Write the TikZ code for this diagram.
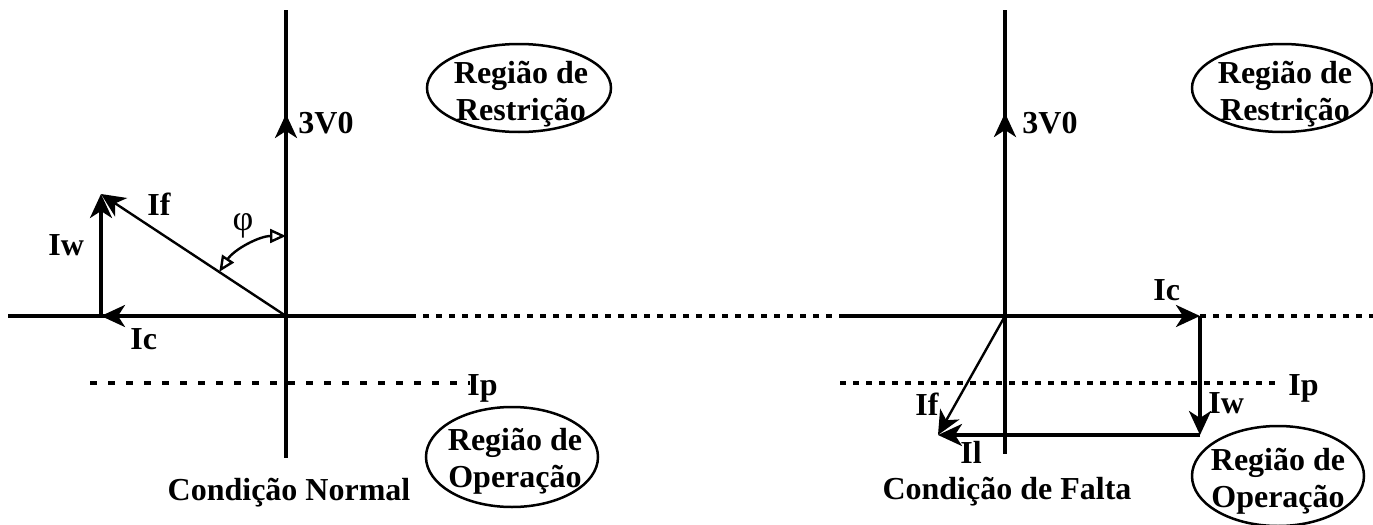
\documentclass[tikz,border=0pt]{standalone}
\usepackage{fontspec}
\setmainfont{Liberation Serif}
\usetikzlibrary{arrows.meta,calc}
\begin{document}
\begin{tikzpicture}[x=0.5pt,y=-0.5pt,
  lbl/.style={font=\fontsize{16}{18.5}\selectfont\bfseries, inner sep=0pt},
  region/.style={lbl, align=center},
  axis/.style={line width=1.75pt},
  vec/.style={line width=1.75pt, -{Stealth[length=12pt,width=11pt,inset=3.5pt]}},
  thinvec/.style={line width=1.2pt, -{Stealth[length=12pt,width=11pt,inset=3.5pt]}},
  dots/.style={line width=2pt, dash pattern=on 3pt off 3.5pt},
  ipdash/.style={line width=2pt, dash pattern=on 3.5pt off 5.5pt},
  ell/.style={line width=1.25pt},
  phiarr/.style={line width=1.2pt, {Triangle[open,length=8pt,width=7pt]}-{Triangle[open,length=8pt,width=7pt]}}]
\useasboundingbox (0,0) rectangle (1373,525);
% ---------- left: normal condition
\coordinate (O1) at (286,316);
\coordinate (T1) at (286,10);
\coordinate (B1) at (286,458);
\coordinate (V1) at (286,114);
\coordinate (L1) at (8,316);
\coordinate (R1) at (410,316);
\coordinate (C1) at (101,316);
\coordinate (F1) at (101,194);
\coordinate (P1a) at (90,383);
\coordinate (P1b) at (470,383);
% ---------- right: fault condition
\coordinate (O2) at (1005,316);
\coordinate (T2) at (1005,10);
\coordinate (B2) at (1005,454);
\coordinate (V2) at (1005,113);
\coordinate (L2) at (840,316);
\coordinate (C2) at (1200,316);
\coordinate (E2) at (1373,316);
\coordinate (W2) at (1200,435);
\coordinate (F2) at (938,435);
\coordinate (P2a) at (840,383);
\coordinate (P2b) at (1280,383);

% left drawing
\draw[axis] (T1) -- (B1);
\draw[axis] (L1) -- (R1);
\draw[dots] (R1) -- (L2);
\draw[vec] (O1) -- (V1);
\draw[vec] (O1) -- (C1);
\draw[vec] (C1) -- (F1);
\draw[thinvec] (O1) -- (F1);
\draw[ipdash] (P1a) -- (P1b);
\coordinate (A1) at ($(O1)+(213.5:80)$);
\draw[phiarr] (A1) arc[start angle=213.5, end angle=270, radius=80];

% right drawing
\draw[axis] (T2) -- (B2);
\draw[vec] (O2) -- (V2);
\draw[axis] (L2) -- (O2);
\draw[vec] (O2) -- (C2);
\draw[dots] (C2) -- (E2);
\draw[vec] (C2) -- (W2);
\draw[vec] (W2) -- (F2);
\draw[thinvec] (O2) -- (F2);
\draw[dots] (P2a) -- (P2b);

% labels left
\node[lbl, anchor=base west] (v1l) at (298,133) {3V0};
\node[lbl, anchor=base west] (if1l) at (147,215) {If};
\node[lbl, anchor=base west] (iw1l) at (48,255) {Iw};
\node[lbl, anchor=base west] (ic1l) at (130,349) {Ic};
\node[font=\fontsize{18}{20}\selectfont, inner sep=0pt] (phil) at (243,226) {φ};
\node[lbl, anchor=base west] (ip1l) at (467,395) {Ip};
\node[lbl, anchor=base] (cn) at (289,500) {Condição Normal};

% labels right
\node[lbl, anchor=base west] (v2l) at (1022,133) {3V0};
\node[lbl, anchor=base west] (ic2l) at (1153,300) {Ic};
\node[lbl, anchor=base west] (iw2l) at (1208,413) {Iw};
\node[lbl, anchor=base west] (if2l) at (915,415) {If};
\node[lbl, anchor=base west] (il2l) at (960,463) {Il};
\node[lbl, anchor=base west] (ip2l) at (1288,395) {Ip};
\node[lbl, anchor=base] (cf) at (1007,499) {Condição de Falta};

% regions
\node[region] (rr1) at (521,94) {Região de\\Restrição};
\draw[ell] ($(rr1.center)+(-2,-6)$) ellipse [x radius=92, y radius=44];
\node[region] (ro1) at (515,461) {Região de\\Operação};
\draw[ell] ($(ro1.center)+(-3,-4)$) ellipse [x radius=86, y radius=50];
\node[region] (rr2) at (1285,94) {Região de\\Restrição};
\draw[ell] ($(rr2.center)+(-3,-6)$) ellipse [x radius=90, y radius=44];
\node[region] (ro2) at (1278,481) {Região de\\Operação};
\draw[ell] ($(ro2.center)+(0,-5)$) ellipse [x radius=86, y radius=50];
\end{tikzpicture}
\end{document}
